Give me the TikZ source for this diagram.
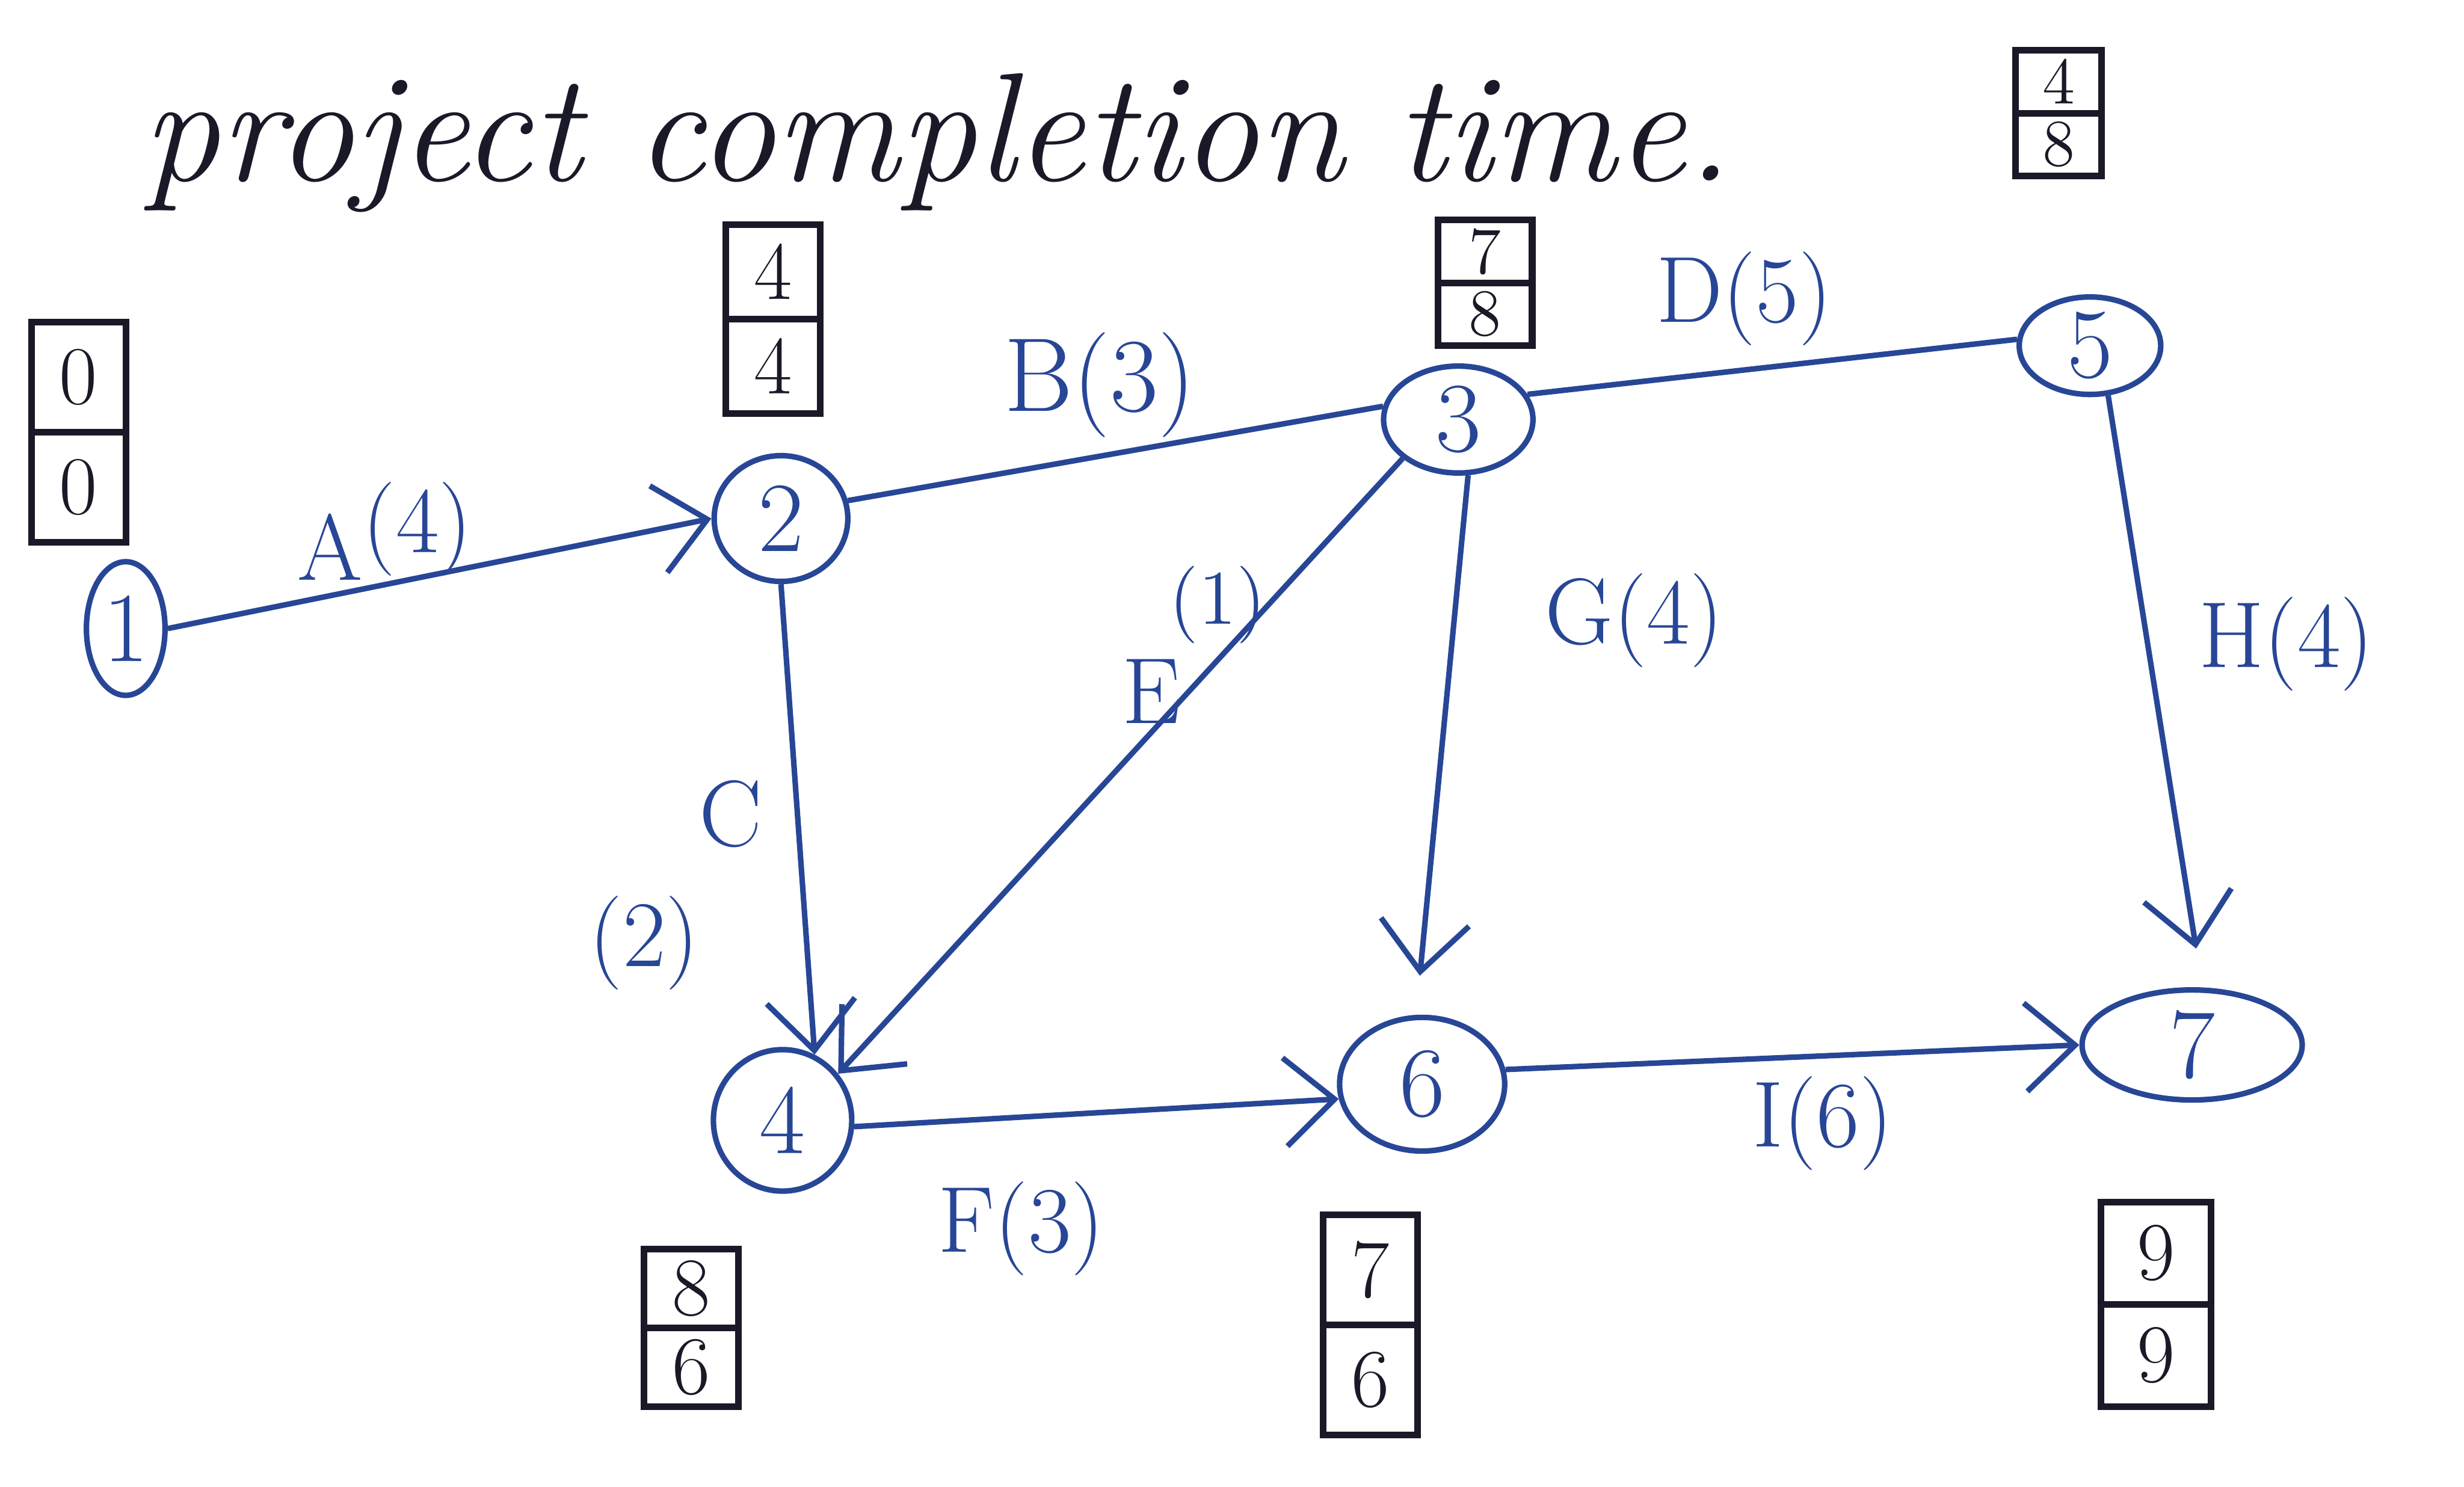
\documentclass[tikz,border=0pt]{standalone}
\usetikzlibrary{arrows.meta,shapes.geometric}
\definecolor{inkblue}{RGB}{40,70,150}
\definecolor{inkblack}{RGB}{25,25,40}
\tikzset{
  ev/.style={draw=inkblue, ellipse, line width=1pt, inner sep=0pt, text=inkblue, font=\fontsize{18}{20}\selectfont},
  act/.style={draw=inkblue, line width=1pt},
  arr/.style={act, -{Straight Barb[length=9pt,width=16pt,line width=1pt]}},
  lbl/.style={text=inkblue, font=\fontsize{17}{19}\selectfont, inner sep=0pt},
  cell/.style={draw=inkblack, line width=1.2pt, inner sep=0pt, outer sep=0pt, text=inkblack, font=\fontsize{15}{17}\selectfont},
  ttl/.style={text=inkblack, font=\itshape\fontsize{28}{32}\selectfont, inner sep=0pt},
}
\newcommand\evbox[8][]{%
  \node[cell, #1, minimum width=#5, minimum height=#6, anchor=south] (#2t) at (#3,#4) {#7};
  \node[cell, #1, minimum width=#5, minimum height=#6, anchor=north] (#2b) at (#3,#4) {#8};
}
\begin{document}
\begin{tikzpicture}[x=0.01cm,y=-0.01cm]
\useasboundingbox (0,0) rectangle (1568,946);
\node[ttl, anchor=base west] (title1) at (90,115) {project completion};
\node[ttl, anchor=base west] (title2) at ([xshift=9pt]title1.base east) {time.};

\node[ev, minimum width=0.5cm, minimum height=0.85cm] (n1) at (80,400) {1};
\node[ev, minimum width=0.85cm, minimum height=0.8cm] (n2) at (497,330) {2};
\node[ev, minimum width=0.95cm, minimum height=0.68cm] (n3) at (928,267) {3};
\node[ev, minimum width=0.9cm, minimum height=0.62cm] (n5) at (1330,220) {5};
\node[ev, minimum width=0.88cm, minimum height=0.9cm] (n4) at (498,713) {4};
\node[ev, minimum width=1.05cm, minimum height=0.85cm] (n6) at (905,690) {6};
\node[ev, minimum width=1.4cm, minimum height=0.7cm] (n7) at (1395,665) {7};

\draw[arr] (n1.east) -- (n2.west);
\draw[act] (n3.170) -- (n2.15);
\draw[act] (n3.20) -- (n5.175);
\draw[arr] (n2.south) -- (n4.64);
\draw[arr] (n3.215) -- (n4.40);
\draw[arr, shorten >=0.25cm] (n3.-80) -- (n6.95);
\draw[arr, shorten >=0.25cm] (n5.-70) -- (n7.80);
\draw[arr] (n4.-5) -- (n6.190);
\draw[arr] (n6.10) -- (n7.west);

\node[lbl] (lA) at (245,338) {A\raisebox{5pt}{(4)}};
\node[lbl, font=\fontsize{19}{21}\selectfont] (lB) at (700,245) {B(3)};
\node[lbl] (lD) at (1110,190) {D(5)};
\node[lbl] (lC) at (465,518) {C};
\node[lbl] (lC2) at (410,600) {(2)};
\node[lbl] (lE) at (733,440) {E};
\node[lbl, font=\fontsize{14}{16}\selectfont] (lE2) at (775,385) {(1)};
\node[lbl] (lG) at (1040,395) {G(4)};
\node[lbl] (lH) at (1455,410) {H(4)};
\node[lbl] (lF) at (650,782) {F(3)};
\node[lbl] (lI) at (1160,715) {I(6)};

\evbox{b1}{50}{275}{0.6cm}{0.7cm}{0}{0}
\evbox{b2}{492}{203}{0.6cm}{0.6cm}{4}{4}
\evbox[font=\fontsize{12}{14}\selectfont]{b3}{945}{180}{0.6cm}{0.4cm}{7}{8}
\evbox[font=\fontsize{12}{14}\selectfont]{b5}{1310}{72}{0.55cm}{0.4cm}{4}{8}
\evbox{b4}{440}{845}{0.6cm}{0.5cm}{8}{6}
\evbox{b6}{872}{843}{0.6cm}{0.7cm}{7}{6}
\evbox{b7}{1372}{830}{0.7cm}{0.65cm}{9}{9}
\end{tikzpicture}
\end{document}
